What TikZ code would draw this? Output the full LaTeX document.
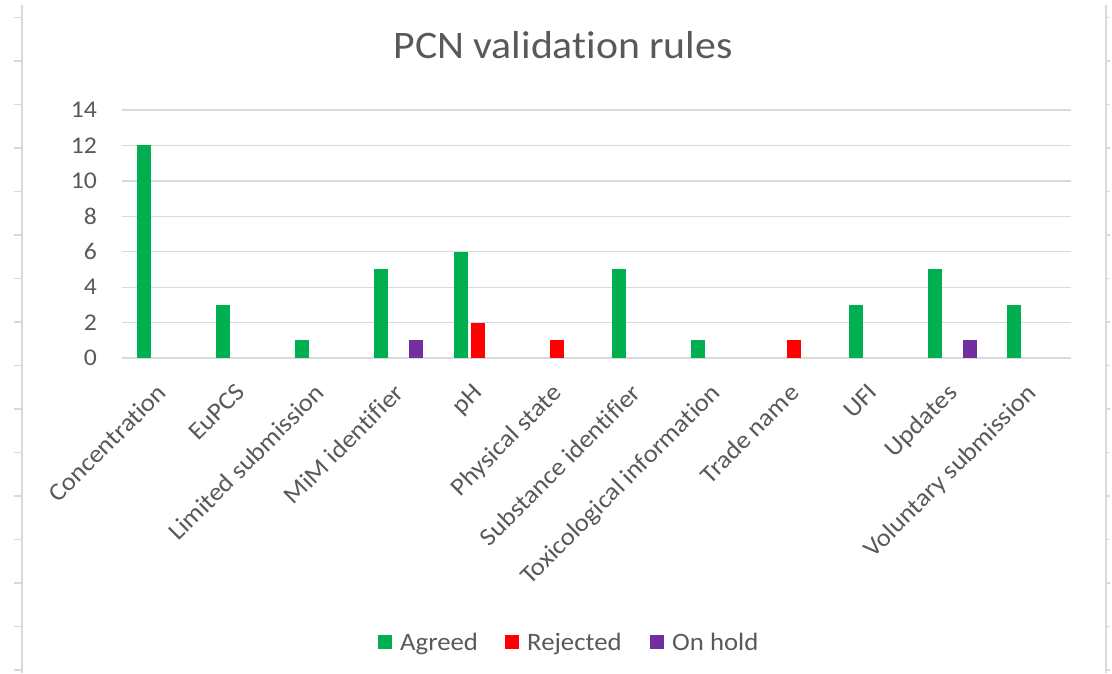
\documentclass[tikz,border=0pt]{standalone}
\usepackage{fontspec}
\setmainfont[FakeStretch=1.07, Ligatures=NoCommon]{Carlito}
\definecolor{agreed}{HTML}{00B050}
\definecolor{rejected}{HTML}{FF0000}
\definecolor{onhold}{HTML}{7030A0}
\definecolor{gridgray}{HTML}{D9D9D9}
\definecolor{textgray}{HTML}{595959}

\begin{document}
\begin{tikzpicture}[
    x=1pt, y=-1pt,
    gridline/.style={draw=gridgray, line width=1.3pt},
    frameline/.style={draw=gridgray, line width=1.5pt},
    legsq/.style={minimum size=14pt, inner sep=0pt},
    every node/.style={text=textgray, inner sep=0pt, font=\fontsize{25}{25}\selectfont}
  ]
  \useasboundingbox (0,0) rectangle (1112,673);
  % sheet edges
  \draw[frameline] (22,5) -- (22,673);
  \draw[frameline] (1106,5) -- (1106,673);
  \foreach \k in {0,...,15} {
    \draw[frameline] (14,{17.5+43.5*\k}) -- (22,{17.5+43.5*\k});
    \draw[frameline] (1106,{17.5+43.5*\k}) -- (1110,{17.5+43.5*\k});
  }
  % title
  \node[font=\fontsize{39}{39}\selectfont] (title) at (563,45) {PCN validation rules};
  % grid and y labels
  \foreach \v in {0,2,...,14} {
    \draw[gridline] (122,{358-17.714*\v}) -- (1071,{358-17.714*\v});
    \node[anchor=east, font=\fontsize{24}{24}\selectfont] (y\v) at (97,{358-17.714*\v}) {\v};
  }
  % bars
  \foreach \a/\r/\h/\name [count=\i] in {
      12/0/0/Concentration, 3/0/0/EuPCS, 1/0/0/Limited submission,
      5/0/1/MiM identifier, 6/2/0/pH, 0/1/0/Physical state,
      5/0/0/Substance identifier, 1/0/0/Toxicological information,
      0/1/0/Trade name, 3/0/0/UFI, 5/0/1/Updates, 3/0/0/Voluntary submission} {
    \pgfmathsetmacro\c{122+(\i-0.5)*79.08}
    \ifnum\a>0 \fill[agreed] ({\c-24.3},358) rectangle ({\c-10.3},{358-17.714*\a}); \fi
    \ifnum\r>0 \fill[rejected] ({\c-7},358) rectangle ({\c+7},{358-17.714*\r}); \fi
    \ifnum\h>0 \fill[onhold] ({\c+10.3},358) rectangle ({\c+24.3},{358-17.714*\h}); \fi
    \node[rotate=45, anchor=north east] (cat\i) at ({\c-6},382) {\name};
  }
  % legend
  \node[legsq, fill=agreed] (sqA) at (385,642) {};
  \node[anchor=base west] (legA) at (400,650) {Agreed};
  \node[legsq, fill=rejected] (sqR) at (512,642) {};
  \node[anchor=base west] (legR) at (527,650) {Rejected};
  \node[legsq, fill=onhold] (sqH) at (657,642) {};
  \node[anchor=base west] (legH) at (672,650) {On hold};
\end{tikzpicture}
\end{document}
